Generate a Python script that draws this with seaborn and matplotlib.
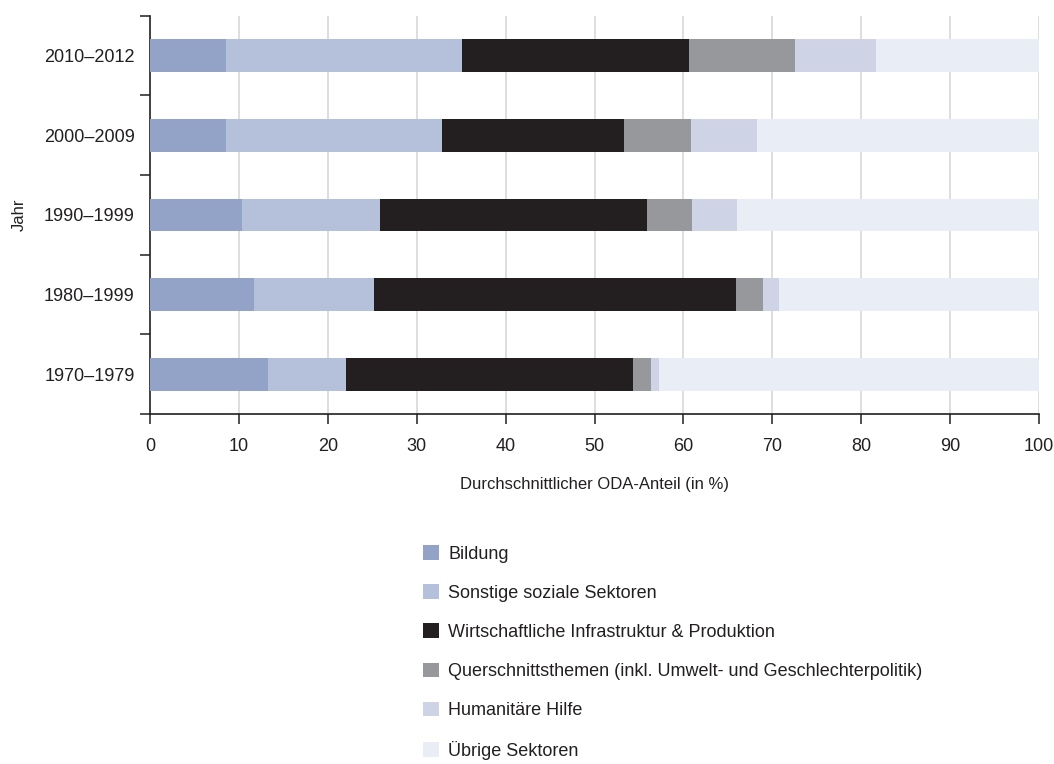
import numpy as np
import pandas as pd
import matplotlib
matplotlib.use("Agg")
import matplotlib.pyplot as plt
from matplotlib.patches import Patch
import seaborn as sns

# ---- data ----
periods = ["2010–2012", "2000–2009", "1990–1999", "1980–1999", "1970–1979"]
series_names = [
    "Bildung",
    "Sonstige soziale Sektoren",
    "Wirtschaftliche Infrastruktur & Produktion",
    "Querschnittsthemen (inkl. Umwelt- und Geschlechterpolitik)",
    "Humanitäre Hilfe",
    "Übrige Sektoren",
]
bildung = [8.6, 8.5, 10.3, 11.7, 13.3]
sonstige_soziale = [26.5, 24.4, 15.6, 13.5, 8.8]
wirtschaft = [25.5, 20.4, 30.0, 40.7, 32.2]
querschnitt = [12.0, 7.6, 5.1, 3.0, 2.1]
humanitaer = [9.1, 7.4, 5.0, 1.8, 0.9]
uebrige = [18.3, 31.7, 34.0, 29.3, 42.7]
colors = ["#93A3C8", "#B5C0DB", "#231F20", "#97989B", "#CED4E6", "#E9EDF5"]
xticks = [0, 10, 20, 30, 40, 50, 60, 70, 80, 90, 100]

sns.set_style("white")
plt.rcParams["font.family"] = ["Liberation Sans", "DejaVu Sans"]

values = [bildung, sonstige_soziale, wirtschaft, querschnitt, humanitaer, uebrige]
df = pd.DataFrame({name: vals for name, vals in zip(series_names, values)})
df["Jahr"] = periods
cum = df[series_names].cumsum(axis=1)
cum["Jahr"] = periods

fig = plt.figure(figsize=(10.54, 7.64), dpi=100)
ax = fig.add_axes([150 / 1054, 1 - 414 / 764, (1039 - 150) / 1054, (414 - 15.7) / 764])

# stacked bars: draw cumulative totals from largest to smallest
for name, col in reversed(list(zip(series_names, colors))):
    sns.barplot(data=cum, x=name, y="Jahr", order=periods, color=col,
                width=0.41, linewidth=0, saturation=1, ax=ax, zorder=3)

ax.set_xlim(0, 100)
ax.set_ylim(4.5, -0.5)
ax.set_xticks(xticks)
ax.set_xticklabels([str(t) for t in xticks])
ax.xaxis.grid(True, color="#D4D4D4", linewidth=1.1, zorder=0)
ax.set_axisbelow(True)
for g in ax.get_xgridlines()[:1]:
    g.set_visible(False)

for s in ["top", "right"]:
    ax.spines[s].set_visible(False)
for s in ["left", "bottom"]:
    ax.spines[s].set_color("#231F20")
    ax.spines[s].set_linewidth(1.2)

ax.tick_params(axis="x", which="major", bottom=True, direction="out", length=7, width=1.1,
               color="#231F20", labelsize=13, labelcolor="#231F20", pad=10)
ax.tick_params(axis="y", which="major", left=False, length=0, labelsize=13,
               labelcolor="#231F20", pad=11)
ax.set_yticks(np.arange(-0.5, 5.0, 1.0), minor=True)
ax.tick_params(axis="y", which="minor", left=True, direction="out", length=7, width=1.1,
               color="#231F20")

ax.set_xlabel("Durchschnittlicher ODA-Anteil (in %)", fontsize=12, color="#231F20", labelpad=16)
ax.set_ylabel("Jahr", fontsize=12, color="#231F20", labelpad=12)

handles = [Patch(facecolor=c, edgecolor="none") for c in colors]
fig.legend(handles, series_names, loc="upper left", bbox_to_anchor=(416 / 1054, 1 - 538 / 764),
           frameon=False, fontsize=13, handlelength=0.85, handleheight=0.85,
           handletextpad=0.55, labelspacing=1.2, borderaxespad=0,
           labelcolor="#231F20")

fig.savefig("out.png", dpi=100)
